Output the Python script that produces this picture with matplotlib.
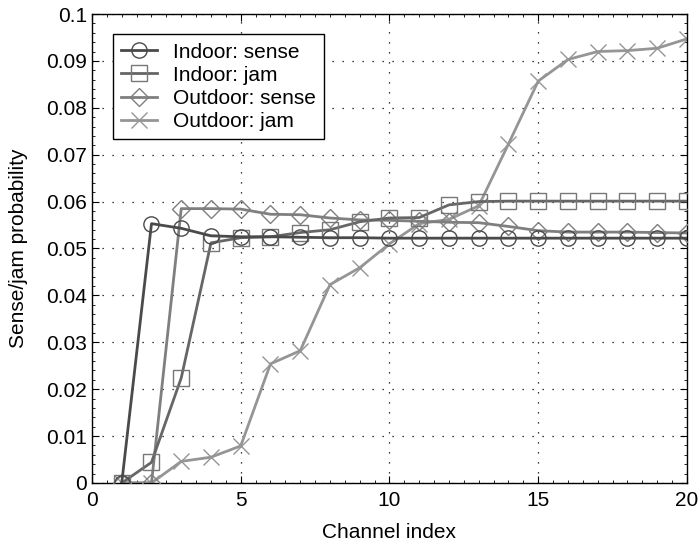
import matplotlib
matplotlib.use("Agg")
import matplotlib.pyplot as plt
from matplotlib.ticker import MultipleLocator

channels = list(range(1, 21))
indoor_sense = [0, 0.0553, 0.0543, 0.0527, 0.0525, 0.0525, 0.0524, 0.0523, 0.0523, 0.0522,
                0.0522, 0.0522, 0.0522, 0.0522, 0.0522, 0.0522, 0.0522, 0.0522, 0.0522, 0.0522]
indoor_jam = [0, 0.0044, 0.0224, 0.0512, 0.0523, 0.0525, 0.0534, 0.0540, 0.0557, 0.0565,
              0.0566, 0.0593, 0.0600, 0.0601, 0.0601, 0.0601, 0.0601, 0.0601, 0.0601, 0.0601]
outdoor_sense = [0, 0, 0.0585, 0.0585, 0.0584, 0.0573, 0.0572, 0.0565, 0.0561, 0.0560,
                 0.0558, 0.0556, 0.0555, 0.0547, 0.0538, 0.0535, 0.0535, 0.0535, 0.0534, 0.0533]
outdoor_jam = [0, 0, 0.0046, 0.0055, 0.0079, 0.0254, 0.0282, 0.0423, 0.0459, 0.0510,
               0.0553, 0.0562, 0.0591, 0.0723, 0.0857, 0.0903, 0.0920, 0.0922, 0.0927, 0.0947]

plt.rcParams['font.family'] = ['Liberation Sans', 'DejaVu Sans']
FS = 15

fig = plt.figure(figsize=(6.99, 5.45), dpi=100)
ax = fig.add_axes([0.1316, 0.1138, 0.8512, 0.8605])

lw = 2.0
ms = 11
ax.plot(channels, indoor_sense, color='#4a4a4a', lw=lw, marker='o', ms=ms,
        mfc='none', mec='#4a4a4a', mew=1.0, label='Indoor: sense', zorder=5)
ax.plot(channels, indoor_jam, color='#666666', lw=lw, marker='s', ms=ms,
        mfc='none', mec='#777777', mew=1.0, label='Indoor: jam', zorder=4)
ax.plot(channels, outdoor_sense, color='#7f7f7f', lw=lw, marker='D', ms=ms*0.85,
        mfc='none', mec='#7f7f7f', mew=1.0, label='Outdoor: sense', zorder=3)
ax.plot(channels, outdoor_jam, color='#959595', lw=lw, marker='x', ms=ms,
        mec='#959595', mew=1.0, label='Outdoor: jam', zorder=2)

ax.set_xlim(0, 20)
ax.set_ylim(0, 0.1)
ax.set_xticks([0, 5, 10, 15, 20])
ax.set_yticks([i / 100 for i in range(11)])
ax.set_yticklabels(['0'] + ['%.2f' % (i / 100) for i in range(1, 10)] + ['0.1'])
ax.xaxis.set_minor_locator(MultipleLocator(0.5))
ax.yaxis.set_minor_locator(MultipleLocator(0.002))
ax.tick_params(which='both', direction='in', top=True, right=True, labelsize=FS)
ax.tick_params(which='major', length=5)
ax.tick_params(which='minor', length=2.5)
ax.tick_params(axis='x', which='major', pad=6)
ax.grid(True, which='major', linestyle=(0, (1, 7)), color='black', lw=0.9)
for s in ax.spines.values():
    s.set_linewidth(1.0)

ax.set_xlabel('Channel index', fontsize=FS, labelpad=9)
ax.set_ylabel('Sense/jam probability', fontsize=FS, labelpad=13)

leg = ax.legend(loc='upper left', bbox_to_anchor=(0.035, 0.957), fontsize=FS,
                frameon=True, fancybox=False, edgecolor='black', framealpha=1,
                handlelength=1.7, borderpad=0.4, labelspacing=0.2, handletextpad=0.8,
                borderaxespad=0)
leg.get_frame().set_linewidth(1.0)

fig.savefig('out.png', dpi=100)
